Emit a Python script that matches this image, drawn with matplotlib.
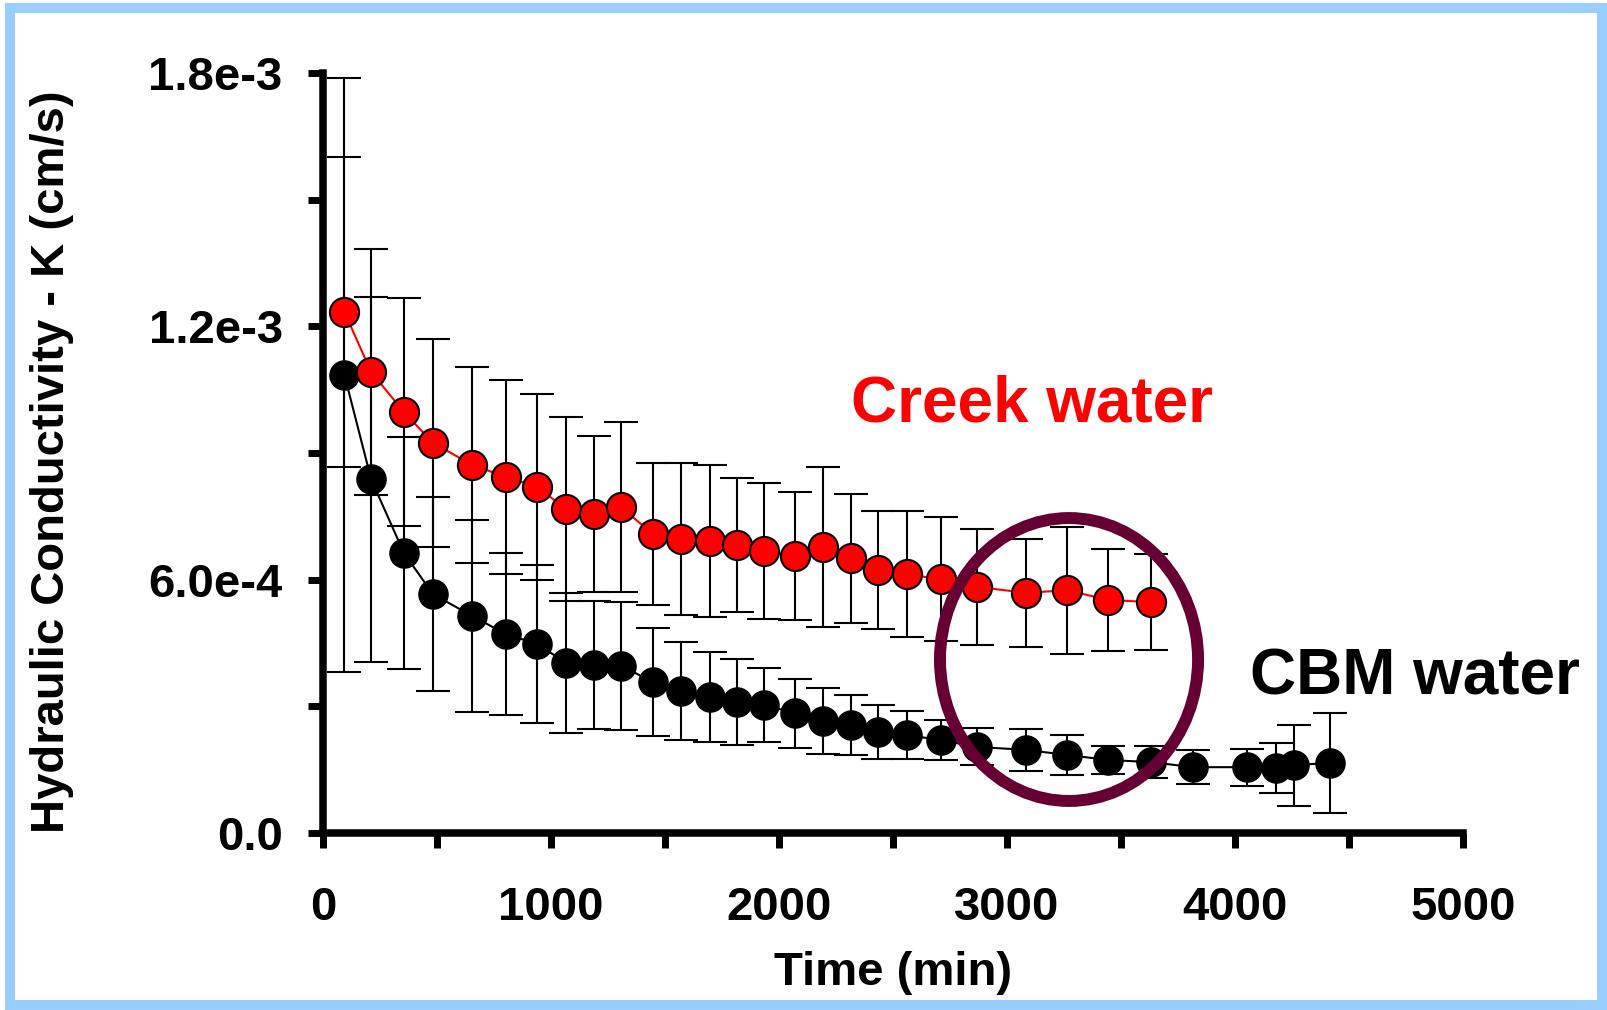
import numpy as np
import matplotlib.pyplot as plt
from matplotlib.patches import Ellipse, Rectangle

plt.rcParams['font.family'] = ['Liberation Sans', 'DejaVu Sans']
plt.rcParams['font.weight'] = 'bold'

# Creek water (red) - time in min, K in 1e-3 cm/s
time_creek = [94, 211, 355, 482, 654, 803, 939, 1066, 1189, 1307, 1447, 1568, 1697,
              1816, 1934, 2072, 2193, 2316, 2434, 2561, 2711, 2868, 3083, 3263, 3445, 3632]
k_creek = [1.234, 1.092, 0.997, 0.924, 0.872, 0.843, 0.820, 0.767, 0.756, 0.772, 0.708, 0.696, 0.692,
           0.682, 0.668, 0.656, 0.677, 0.651, 0.623, 0.613, 0.601, 0.583, 0.569, 0.575, 0.552, 0.547]
err_creek = [0.367, 0.291, 0.270, 0.246, 0.232, 0.230, 0.220, 0.218, 0.184, 0.201, 0.168, 0.180, 0.180,
             0.159, 0.161, 0.152, 0.190, 0.153, 0.140, 0.149, 0.147, 0.137, 0.128, 0.150, 0.120, 0.113]

# CBM water (black)
time_cbm = time_creek + [3816, 4053, 4180, 4259, 4417]
k_cbm = [1.085, 0.838, 0.663, 0.566, 0.514, 0.471, 0.448, 0.403, 0.398, 0.396, 0.358, 0.336, 0.322,
         0.310, 0.303, 0.284, 0.265, 0.256, 0.239, 0.232, 0.220, 0.204, 0.197, 0.185, 0.173, 0.168,
         0.156, 0.156, 0.154, 0.161, 0.166]
err_cbm = [0.703, 0.432, 0.275, 0.230, 0.227, 0.192, 0.187, 0.165, 0.151, 0.151, 0.128, 0.116, 0.107,
           0.102, 0.088, 0.082, 0.078, 0.071, 0.064, 0.056, 0.048, 0.044, 0.050, 0.047, 0.034, 0.038,
           0.040, 0.044, 0.059, 0.096, 0.119]

scale = 1e-3
y_ticks = [0, 0.6e-3, 1.2e-3, 1.8e-3]
y_ticklabels = ['0.0', '6.0e-4', '1.2e-3', '1.8e-3']
x_ticks = [0, 1000, 2000, 3000, 4000, 5000]

fig = plt.figure(figsize=(16.07, 10.10), dpi=100)
ax = fig.add_axes([0.201, 0.1752, 0.7094, 0.7525])

ax.errorbar(time_cbm, np.array(k_cbm) * scale, yerr=np.array(err_cbm) * scale,
            fmt='none', ecolor='black', elinewidth=1.5, capsize=12, capthick=1.5, zorder=2)
ax.errorbar(time_creek, np.array(k_creek) * scale, yerr=np.array(err_creek) * scale,
            fmt='none', ecolor='black', elinewidth=1.5, capsize=12, capthick=1.5, zorder=2)
ax.plot(time_cbm, np.array(k_cbm) * scale, '-o', color='black', lw=1.5,
        ms=21, mfc='black', mec='black', zorder=3)
ax.plot(time_creek, np.array(k_creek) * scale, '-o', color='red', lw=1.5,
        ms=21, mfc='red', mec='black', mew=1.5, zorder=4)

# highlight circle
ax.add_patch(Ellipse((3272, 0.411e-3), 1132, 0.670e-3, fill=False,
                     edgecolor='#660033', lw=8.6, zorder=5, clip_on=False))

ax.text(3110, 1.014e-3, 'Creek water', color='red', fontsize=46, fontweight='bold',
        ha='center', va='center')
ax.text(4789, 0.369e-3, 'CBM water', color='black', fontsize=46, fontweight='bold',
        ha='center', va='center', clip_on=False)

ax.set_xlim(0, 5000)
ax.set_ylim(0, 1.8e-3)
ax.set_xticks(x_ticks)
ax.set_xticks(np.arange(500, 5000, 1000), minor=True)
ax.set_yticks(y_ticks)
ax.set_yticklabels(y_ticklabels)
ax.set_yticks([0.3e-3, 0.9e-3, 1.5e-3], minor=True)

for s in ['top', 'right']:
    ax.spines[s].set_visible(False)
for s in ['left', 'bottom']:
    ax.spines[s].set_linewidth(5.4)
ax.tick_params(which='both', direction='out', length=11, width=5)
ax.tick_params(axis='y', labelsize=34, pad=18)
ax.tick_params(axis='x', labelsize=34, pad=27)
for lab in ax.get_xticklabels() + ax.get_yticklabels():
    lab.set_fontweight('bold')

ax.set_xlabel('Time (min)', fontsize=34, fontweight='bold')
ax.set_ylabel('Hydraulic Conductivity - K (cm/s)', fontsize=34, fontweight='bold')
ax.xaxis.set_label_coords(0.5, -0.155)
ax.yaxis.set_label_coords(-0.218, 0.489)

# light blue frame
fig.patches.append(Rectangle((10 / 1607, 5 / 1010), 1592 / 1607, 997 / 1010,
                             transform=fig.transFigure, fill=False,
                             edgecolor='#99CCFF', lw=7.2))

fig.savefig('out.png', dpi=100)
